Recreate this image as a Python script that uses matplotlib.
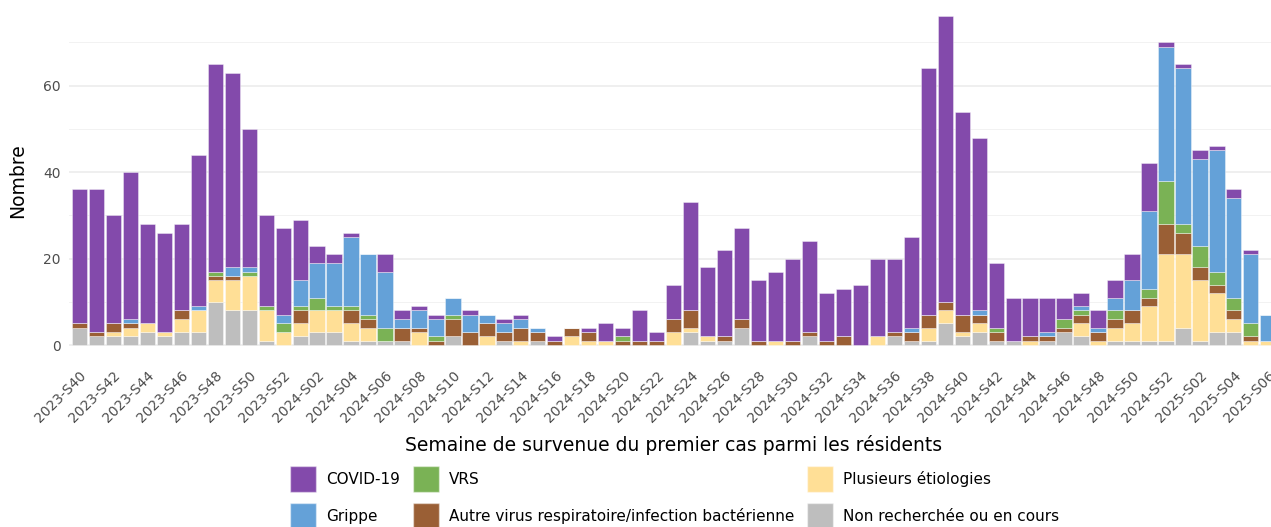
import numpy as np
import matplotlib
matplotlib.use("Agg")
import matplotlib.pyplot as plt
from matplotlib.patches import Patch

# semaines : 2023-S40 -> 2025-S06
semaines = ([f"2023-S{w:02d}" for w in range(40, 53)]
            + [f"2024-S{w:02d}" for w in range(1, 53)]
            + [f"2025-S{w:02d}" for w in range(1, 7)])

# une ligne = 13 semaines (2023-S40..S52, puis 2024 par blocs de 13, puis 2025)
non_recherchee = [4, 2, 2, 2, 3, 2, 3, 3, 10, 8, 8, 1, 0,
                  2, 3, 3, 1, 1, 1, 1, 0, 0, 2, 0, 0, 1,
                  0, 1, 0, 0, 0, 0, 0, 0, 0, 0, 3, 1, 1,
                  4, 0, 0, 0, 2, 0, 0, 0, 0, 2, 1, 1, 5,
                  2, 3, 1, 1, 0, 1, 3, 2, 0, 1, 1, 1, 1,
                  4, 1, 3, 3, 0, 0]
plusieurs = [0, 0, 1, 2, 2, 1, 3, 5, 5, 7, 8, 7, 3,
             3, 5, 5, 4, 3, 0, 0, 3, 0, 0, 0, 2, 0,
             1, 0, 0, 2, 1, 1, 0, 0, 0, 3, 1, 1, 0,
             0, 0, 1, 0, 0, 0, 0, 0, 2, 0, 0, 3, 3,
             1, 2, 0, 0, 1, 0, 0, 3, 1, 3, 4, 8, 20,
             17, 14, 9, 3, 1, 1]
autre = [1, 1, 2, 1, 0, 0, 2, 0, 1, 1, 0, 0, 0,
         3, 0, 0, 3, 2, 0, 3, 1, 1, 4, 3, 3, 2,
         3, 2, 1, 2, 2, 0, 1, 1, 1, 3, 4, 0, 1,
         2, 1, 0, 1, 1, 1, 2, 0, 0, 1, 2, 3, 2,
         4, 2, 2, 0, 1, 1, 1, 2, 2, 2, 3, 2, 7,
         5, 3, 2, 2, 1, 0]
vrs = [0, 0, 0, 0, 0, 0, 0, 0, 1, 0, 1, 1, 2,
       1, 3, 1, 1, 1, 3, 0, 0, 1, 1, 0, 0, 0,
       0, 0, 0, 0, 0, 0, 1, 0, 0, 0, 0, 0, 0,
       0, 0, 0, 0, 0, 0, 0, 0, 0, 0, 0, 0, 0,
       0, 0, 1, 0, 0, 0, 2, 1, 0, 2, 0, 2, 10,
       2, 5, 3, 3, 3, 0]
grippe = [0, 0, 0, 1, 0, 0, 0, 1, 0, 2, 1, 0, 2,
          6, 8, 10, 16, 14, 13, 2, 4, 4, 4, 4, 2, 2,
          2, 1, 0, 0, 0, 0, 0, 0, 0, 0, 0, 0, 0,
          0, 0, 0, 0, 0, 0, 0, 0, 0, 0, 1, 0, 0,
          0, 1, 0, 0, 0, 1, 0, 1, 1, 3, 7, 18, 31,
          36, 20, 28, 23, 16, 6]
covid = [31, 33, 25, 34, 23, 23, 20, 35, 48, 45, 32, 21, 20,
         14, 4, 2, 1, 0, 4, 2, 1, 1, 0, 1, 0, 1,
         1, 0, 1, 0, 1, 4, 2, 7, 2, 8, 25, 16, 20,
         21, 14, 16, 19, 21, 11, 11, 14, 18, 17, 21, 57, 66,
         47, 40, 15, 10, 9, 8, 5, 3, 4, 4, 6, 11, 1,
         1, 2, 1, 2, 1, 0]

series = [
    ("Non recherchée ou en cours", non_recherchee, "#BEBEBE"),
    ("Plusieurs étiologies", plusieurs, "#FFDF96"),
    ("Autre virus respiratoire/infection bactérienne", autre, "#9A5F35"),
    ("VRS", vrs, "#7AB255"),
    ("Grippe", grippe, "#64A1D8"),
    ("COVID-19", covid, "#834AAB"),
]

gris = "#4D4D4D"
fig = plt.figure(figsize=(12.71, 5.27), dpi=100)
ax = fig.add_axes([0.0545, 0.314, 0.951, 0.686])

x = np.arange(len(semaines))
bas = np.zeros(len(semaines))
for nom, vals, col in series:
    vals = np.array(vals, dtype=float)
    ax.bar(x, vals, bottom=bas, width=0.9, color=col,
           edgecolor=(1, 1, 1, 0.45), linewidth=0.6, zorder=3)
    bas += vals

ax.set_xlim(-0.6, len(semaines) - 0.4)
ax.set_ylim(-3.8, 79.8)
ax.set_yticks([0, 20, 40, 60])
ax.set_yticks([10, 30, 50, 70], minor=True)
ax.grid(axis="y", which="major", color="#EBEBEB", linewidth=1.1, zorder=0)
ax.grid(axis="y", which="minor", color="#F2F2F2", linewidth=0.7, zorder=0)
for s in ax.spines.values():
    s.set_visible(False)
ax.tick_params(axis="both", which="both", length=0, colors=gris, labelsize=10)
ax.tick_params(axis="y", pad=6)

ax.set_xticks(x[::2])
ax.set_xticklabels(semaines[::2], rotation=45, ha="right",
                   rotation_mode="anchor", va="top")
ax.tick_params(axis="x", pad=5)

ax.set_ylabel("Nombre", fontsize=13.5, labelpad=12)
ax.set_xlabel("Semaine de survenue du premier cas parmi les résidents",
              fontsize=13.5, labelpad=7)

ordre = ["COVID-19", "Grippe", "VRS",
         "Autre virus respiratoire/infection bactérienne",
         "Plusieurs étiologies", "Non recherchée ou en cours"]
couleurs = {n: c for n, _, c in series}
poignees = [Patch(facecolor=couleurs[n], edgecolor=(1, 1, 1, 0.45), label=n) for n in ordre]
fig.legend(handles=poignees, loc="upper left", bbox_to_anchor=(0.2282, 0.1157),
           ncol=3, frameon=False, fontsize=11, handlelength=1.7,
           handleheight=2.24, handletextpad=0.65, columnspacing=0.85,
           labelspacing=0.75, borderpad=0, borderaxespad=0)

fig.savefig("out.png", dpi=100)
